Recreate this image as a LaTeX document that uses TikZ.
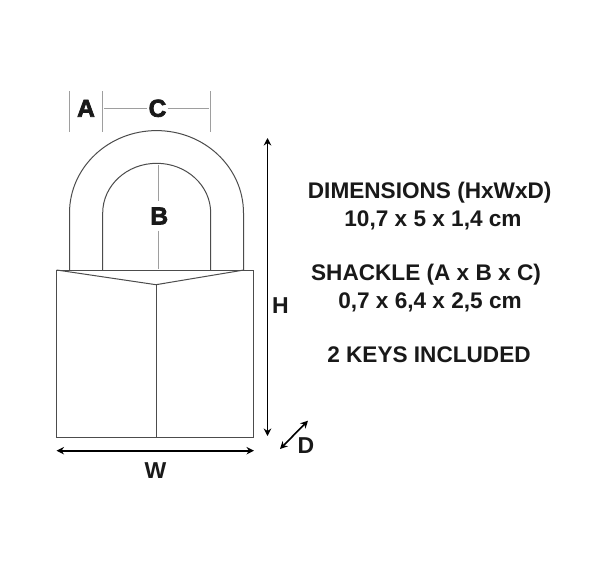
\documentclass[tikz,border=0pt]{standalone}
\usepackage{fontspec}
\setmainfont{Liberation Sans}
\newfontfamily\heavyfont[FakeBold=3]{Liberation Sans Bold}
\usetikzlibrary{arrows.meta}
\definecolor{outline}{gray}{0.30}
\definecolor{guide}{gray}{0.62}
\tikzset{
  lockline/.style={draw=outline,line width=1pt},
  guideline/.style={draw=guide,line width=1pt},
  dim/.style={draw=black,line width=1.6pt,{Stealth[length=7.5pt,width=7.5pt]}-{Stealth[length=7.5pt,width=7.5pt]}},
  infotext/.style={font=\bfseries\fontsize{22.6}{24}\selectfont,text=black!90,inner sep=0pt,anchor=base},
  heavylabel/.style={font=\heavyfont\fontsize{24.5}{26}\selectfont,text=black!90,inner sep=1pt},
  dimlabel/.style={font=\bfseries\fontsize{23}{25}\selectfont,text=black!90,inner sep=0pt}
}
\begin{document}
\begin{tikzpicture}[x=1pt,y=-1pt]
\useasboundingbox (0,0) rectangle (608,568);
\fill[white] (0,0) rectangle (608,568);
% padlock body
\coordinate (bl) at (56.7,437.7);
\coordinate (br) at (253.7,437.7);
\coordinate (tl) at (56.7,270);
\coordinate (tr) at (253.7,270);
\coordinate (fold) at (156,284.7);
\coordinate (foldb) at (156,437.7);
\coordinate (vr) at (244,270);
\draw[lockline] (tl) -- (tr) -- (br) -- (bl) -- cycle;
\draw[lockline] (tl) -- (fold) -- (vr);
\draw[lockline] (fold) -- (foldb);
% shackle
\draw[lockline] (69.5,270) -- (69.5,213) arc[start angle=180,end angle=360,x radius=87,y radius=82.4] -- (243.5,270);
\draw[lockline] (102.7,270) -- (102.7,213) arc[start angle=180,end angle=360,x radius=54,y radius=49.7] -- (210.7,270);
% labels
\node[heavylabel] (A) at (86,108.3) {A};
\node[heavylabel] (C) at (157.5,108.3) {C};
\node[heavylabel,inner ysep=6pt] (B) at (159.3,216) {B};
\node[dimlabel] (H) at (280.5,306) {H};
\node[dimlabel] (W) at (155.5,471) {W};
\node[dimlabel] (D) at (306,446) {D};
% guides
\coordinate (g1t) at (69.7,91); \coordinate (g1b) at (69.7,132);
\coordinate (g2t) at (102.3,91); \coordinate (g2b) at (102.3,132);
\coordinate (g3t) at (210,91); \coordinate (g3b) at (210,132);
\coordinate (cl) at (104,108.7); \coordinate (cr) at (209,108.7);
\coordinate (bt) at (158,165); \coordinate (bb) at (158,269);
\draw[guideline] (g1t) -- (g1b);
\draw[guideline] (g2t) -- (g2b);
\draw[guideline] (g3t) -- (g3b);
\draw[guideline] (cl) -- (cl-|C.west);
\draw[guideline] (cr-|C.east) -- (cr);
\draw[guideline] (bt) -- (bt|-B.north);
\draw[guideline] (bb|-B.south) -- (bb);
% dimension arrows
\coordinate (ht) at (267.5,138); \coordinate (hb) at (267.5,436);
\coordinate (wl) at (56.5,450.7); \coordinate (wr) at (254,450.7);
\coordinate (dl) at (280,449); \coordinate (dr) at (308,420.7);
\draw[dim] (ht) -- (hb);
\draw[dim] (wl) -- (wr);
\draw[dim] (dl) -- (dr);
% text
\node[infotext] (t1) at (429.7,198.5) {DIMENSIONS (HxWxD)};
\node[infotext] (t2) at (433,226) {10,7 x 5 x 1,4 cm};
\node[infotext] (t3) at (426,280.5) {SHACKLE (A x B x C)};
\node[infotext] (t4) at (430,308.5) {0,7 x 6,4 x 2,5 cm};
\node[infotext] (t5) at (429,362) {2 KEYS INCLUDED};
\end{tikzpicture}
\end{document}
